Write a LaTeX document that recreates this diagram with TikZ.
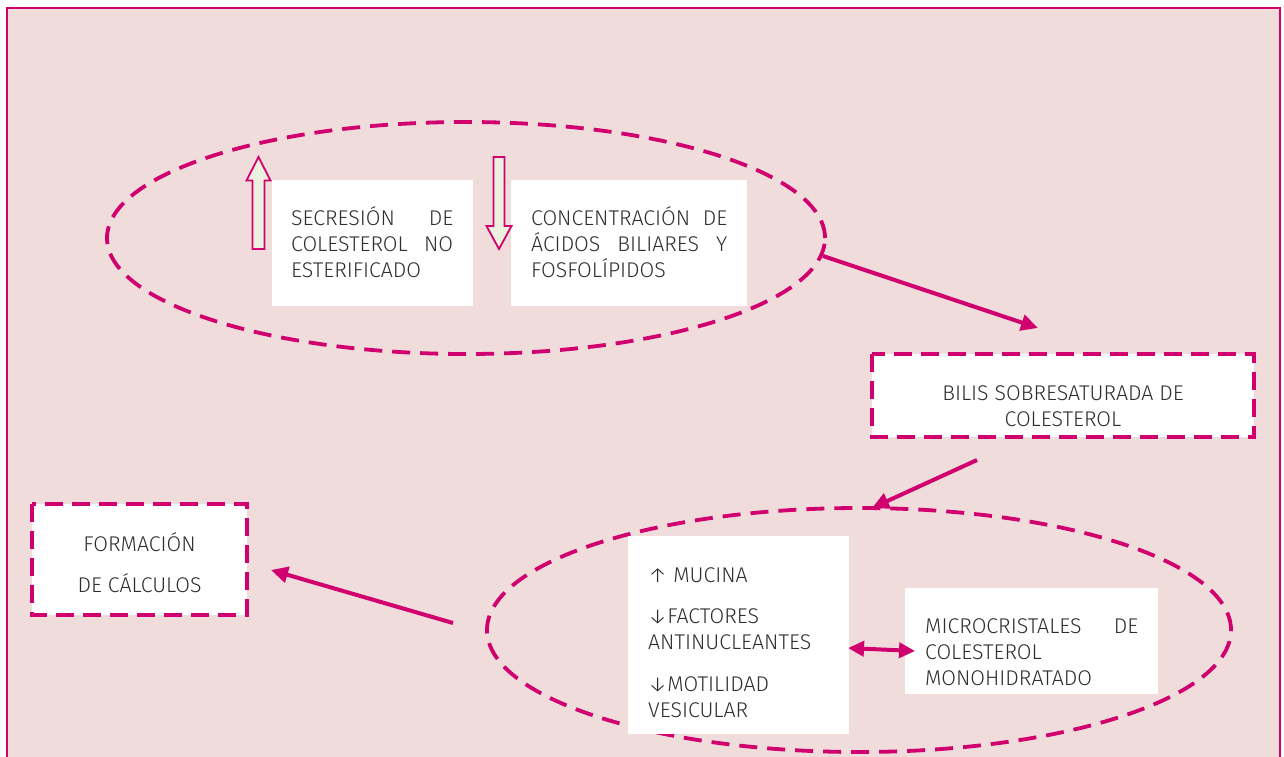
\documentclass[tikz,border=0pt]{standalone}
\usepackage{fontspec}
\setmainfont{Fira Sans Light}
\usetikzlibrary{arrows.meta}
\definecolor{mag}{HTML}{D0006F}
\definecolor{bgpink}{HTML}{F1DCDC}
\definecolor{txt}{HTML}{2E2E2E}
\definecolor{arrfill}{HTML}{EBF1DE}
\tikzset{
  dashline/.style={draw=mag, line width=3.8pt, dash pattern=on 18pt off 10pt},
  wbox/.style={fill=white, draw=none},
  dbox/.style={fill=white, draw=mag, line width=4pt, dash pattern=on 18pt off 9pt},
  conn/.style={draw=mag, line width=4pt, -{Triangle[length=17pt,width=16pt]}},
  dconn/.style={draw=mag, line width=4pt, {Triangle[length=16pt,width=15pt]}-{Triangle[length=16pt,width=15pt]}},
  blockarrow/.style={draw=mag, fill=arrfill, line width=1.8pt, line join=miter},
  tx/.style={inner sep=0pt, text=txt, font=\fontsize{21.3}{26}\selectfont},
}
\begin{document}
\begin{tikzpicture}[x=1pt,y=-1pt]
\useasboundingbox (0,0) rectangle (1284,756);
\begin{scope}
  \clip (0,0) rectangle (1284,756);
  \fill[bgpink] (7,8) rectangle (1280,800);
  \draw[mag, line width=2.2pt] (7,800) -- (7,8) -- (1280,8) -- (1280,800);
\end{scope}

% ellipses
\draw[dashline] (466,238) ellipse [x radius=359pt, y radius=116pt];
\draw[dashline] (859,630) ellipse [x radius=372pt, y radius=122pt];

% white boxes
\path[wbox] (272,180) rectangle (473,306);
\path[wbox] (511,180) rectangle (747,306);
\path[wbox] (628,536) rectangle (849,734);
\path[wbox] (905,588) rectangle (1158,694);
\draw[dbox] (871.5,354) rectangle (1254,437);
\draw[dbox] (32,504) rectangle (247,615);

% block arrows
\draw[blockarrow] (252.5,249) -- (252.5,180.5) -- (246.5,180.5) -- (258.5,157) -- (270.5,180.5) -- (264.5,180.5) -- (264.5,249) -- cycle;
\draw[blockarrow] (493.5,157) -- (504.5,157) -- (504.5,226) -- (511.5,226) -- (499,249) -- (486.5,226) -- (493.5,226) -- cycle;

% texts
\node[tx, anchor=base west] (secT) at (291,225) {\parbox[t]{162pt}{%
  \hbox to 162pt{SECRESIÓN\hfill DE}%
  \hbox to 162pt{COLESTEROL\hfill NO}%
  \hbox{ESTERIFICADO}}};
\node[tx, anchor=base west] (conT) at (531,225) {\parbox[t]{196pt}{%
  \hbox to 196pt{CONCENTRACIÓN\hfill DE}%
  \hbox to 196pt{ÁCIDOS\hfill BILIARES\hfill Y}%
  \hbox{FOSFOLÍPIDOS}}};
\node[tx, anchor=base] (bilT) at (1063,400) {\parbox[t]{360pt}{%
  \hbox to 360pt{\hfil BILIS SOBRESATURADA DE\hfil}%
  \hbox to 360pt{\hfil COLESTEROL\hfil}}};
\node[tx, anchor=base] (forT) at (139.5,551) {\parbox[t]{200pt}{%
  \hbox to 200pt{\hfil FORMACIÓN\hfil}\vskip15pt
  \hbox to 200pt{\hfil DE CÁLCULOS\hfil}}};
\node[tx, anchor=base west] (mucT) at (648,582) {\parbox[t]{200pt}{%
  \hbox{↑ MUCINA}\vskip15pt
  \hbox{↓FACTORES}%
  \hbox{ANTINUCLEANTES}\vskip16pt
  \hbox{↓MOTILIDAD}%
  \hbox{VESICULAR}}};
\node[tx, anchor=base west] (micT) at (925,633) {\parbox[t]{213pt}{%
  \hbox to 213pt{MICROCRISTALES\hfill DE}%
  \hbox{COLESTEROL}%
  \hbox{MONOHIDRATADO}}};

% connectors
\coordinate (e1r) at (823,256);
\coordinate (bilTop) at (1038,328);
\coordinate (bilBot) at (977,460);
\coordinate (e2top) at (872,508);
\coordinate (e2l) at (453,623);
\coordinate (forR) at (271,570);
\coordinate (mucR) at (848,648);
\coordinate (micL) at (915,651);
\draw[conn] (e1r) -- (bilTop);
\draw[conn] (bilBot) -- (e2top);
\draw[conn] (e2l) -- (forR);
\draw[dconn] (mucR) -- (micL);
\end{tikzpicture}
\end{document}
